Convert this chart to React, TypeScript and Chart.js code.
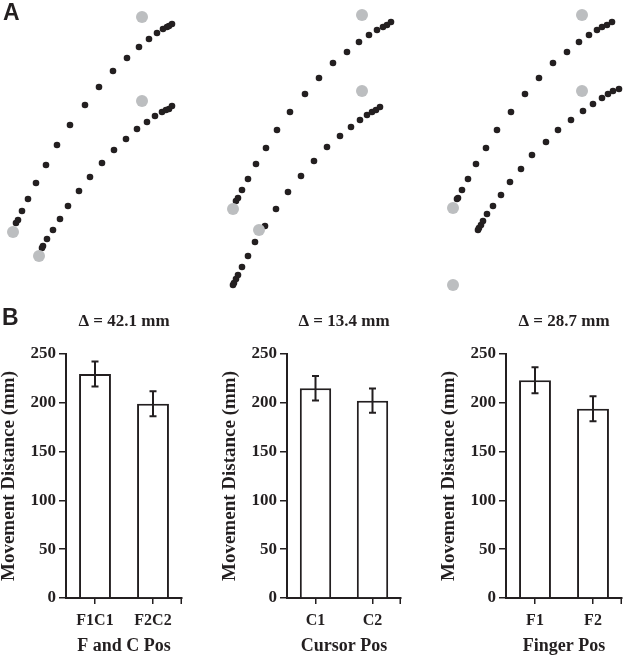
import React, { useEffect, useRef } from 'react';
import { Chart, registerables } from 'chart.js';

Chart.register(...registerables);

const INK = '#231f20';
const GRAY = '#bcbec0';
const SERIF = "'Liberation Serif', 'Times New Roman', serif";
const SANS = "'Liberation Sans', Arial, sans-serif";

type P = [number, number];

// ---- Panel A: trajectories (workspace units, y up) ----
const fcUpper: P[] = [[16,77],[18,80],[22,89],[28,101],[36,117],[46,135],[57,155],[70,175],[85,195],[99,213],[113,229],[127,242],[139,253],[149,261],[157,267],[163,271],[167,273],[169,274],[172,276]];
const fcLower: P[] = [[42,52],[43,54],[47,61],[53,70],[60,81],[68,94],[79,109],[90,123],[102,137],[114,150],[126,161],[137,171],[147,178],[155,184],[162,188],[166,190],[169,191],[172,194]];
const fcTargets: P[] = [[13,68],[142,283],[39,44],[142,199]];

const cUpper: P[] = [[16,99],[18,102],[22,110],[28,121],[36,136],[46,152],[57,170],[70,188],[85,206],[99,222],[113,237],[127,248],[139,258],[149,265],[157,270],[163,273],[167,275],[171,278]];
const cLower: P[] = [[13,15],[14,17],[16,21],[18,25],[22,33],[28,44],[35,58],[45,74],[56,91],[68,108],[81,124],[94,139],[107,153],[120,164],[131,173],[140,180],[147,185],[152,188],[156,190],[160,193]];
const cTargets: P[] = [[13,91],[142,285],[39,70],[142,209]];

const fUpper: P[] = [[17,101],[18,102],[22,110],[28,121],[36,136],[46,152],[57,170],[71,188],[85,206],[99,222],[113,237],[127,248],[139,258],[149,265],[157,270],[162,273],[167,275],[172,278]];
const fLower: P[] = [[38,70],[39,72],[41,75],[43,79],[47,86],[53,94],[61,105],[70,118],[81,131],[92,145],[106,158],[118,170],[131,180],[143,189],[153,196],[162,202],[168,206],[173,209],[179,211]];
const fTargets: P[] = [[13,92],[142,285],[13,15],[142,209]];

const WS_X_MAX = 185;
const WS_Y_MAX = 300;

// ---- Panel B: movement distance ----
const fcLabels = ['F1C1', 'F2C2'];
const fcValues = [229.5, 199];
const fcErrors = [12.8, 12.8];
const fcTitle = 'Δ = 42.1 mm';
const fcXTitle = 'F and C Pos';

const cLabels = ['C1', 'C2'];
const cValues = [214.9, 202.2];
const cErrors = [12.6, 12.5];
const cTitle = 'Δ = 13.4 mm';
const cXTitle = 'Cursor Pos';

const fLabels = ['F1', 'F2'];
const fValues = [223, 194];
const fErrors = [13.3, 12.8];
const fTitle = 'Δ = 28.7 mm';
const fXTitle = 'Finger Pos';

const yTicksMax = 250;
const yStep = 50;
const yTitle = 'Movement Distance (mm)';

const errorBarPlugin = {
  id: 'errorBars',
  afterDatasetsDraw(chart: any) {
    const ds = chart.data.datasets[0];
    const errs: number[] = ds.errors || [];
    const meta = chart.getDatasetMeta(0);
    const y = chart.scales.y;
    const ctx = chart.ctx;
    ctx.save();
    ctx.strokeStyle = INK;
    ctx.lineWidth = 2;
    meta.data.forEach((bar: any, i: number) => {
      const v = ds.data[i];
      const t = y.getPixelForValue(v + errs[i]);
      const b = y.getPixelForValue(v - errs[i]);
      ctx.beginPath();
      ctx.moveTo(bar.x, t);
      ctx.lineTo(bar.x, b);
      ctx.moveTo(bar.x - 3.5, t);
      ctx.lineTo(bar.x + 3.5, t);
      ctx.moveTo(bar.x - 3.5, b);
      ctx.lineTo(bar.x + 3.5, b);
      ctx.stroke();
    });
    // closing tick at the right end of the x axis
    const x = chart.scales.x;
    ctx.lineWidth = 1.5;
    ctx.beginPath();
    ctx.moveTo(x.right - 0.75, x.top);
    ctx.lineTo(x.right - 0.75, x.top + 6);
    ctx.stroke();
    ctx.restore();
  },
};

function makeTraj(canvas: HTMLCanvasElement, paths: P[][], targets: P[]) {
  const toXY = (p: P[]) => p.map(([x, y]) => ({ x, y }));
  return new Chart(canvas, {
    type: 'scatter',
    data: {
      datasets: [
        {
          data: toXY(targets),
          pointRadius: 6,
          pointBackgroundColor: GRAY,
          pointBorderWidth: 0,
          borderWidth: 0,
          clip: false,
        } as any,
        ...paths.map((p) => ({
          data: toXY(p),
          pointRadius: 3.3,
          pointBackgroundColor: INK,
          pointBorderWidth: 0,
          borderWidth: 0,
          clip: false,
        } as any)),
      ],
    },
    options: {
      animation: false,
      responsive: false,
      events: [],
      layout: { padding: 0, autoPadding: false },
      plugins: { legend: { display: false }, tooltip: { enabled: false } },
      scales: {
        x: { type: 'linear', display: false, min: 0, max: WS_X_MAX },
        y: { type: 'linear', display: false, min: 0, max: WS_Y_MAX },
      },
    } as any,
  });
}

function makeBars(
  canvas: HTMLCanvasElement,
  labels: string[],
  values: number[],
  errors: number[],
  title: string,
  xTitle: string,
  areaW: number,
  canvasW: number
) {
  const AXIS_W = 66;
  return new Chart(canvas, {
    type: 'bar',
    data: {
      labels,
      datasets: [
        {
          data: values,
          errors,
          backgroundColor: '#ffffff',
          borderColor: INK,
          borderWidth: 2,
          barPercentage: 0.55,
          categoryPercentage: 1,
        } as any,
      ],
    },
    options: {
      animation: false,
      responsive: false,
      events: [],
      layout: { padding: { left: 0, top: 0, bottom: 0, right: canvasW - AXIS_W - areaW } },
      plugins: {
        legend: { display: false },
        tooltip: { enabled: false },
        title: {
          display: true,
          text: title,
          fullSize: false,
          color: INK,
          font: { family: SERIF, size: 17, weight: 'bold', lineHeight: 1.2 },
          padding: { top: 11.5, bottom: 22.1 },
        },
      },
      scales: {
        x: {
          type: 'category',
          offset: true,
          grid: { offset: false, drawOnChartArea: false, drawTicks: true, tickLength: 6, color: INK, lineWidth: 1.5 },
          border: { display: true, color: INK, width: 2 },
          ticks: { color: INK, padding: 7, font: { family: SERIF, size: 16, weight: 'bold', lineHeight: 1.2 } },
          title: {
            display: true,
            text: xTitle,
            color: INK,
            font: { family: SERIF, size: 18, weight: 'bold', lineHeight: 1.2 },
            padding: 0,
          },
          afterFit: (s: any) => { s.height = 59; },
        },
        y: {
          type: 'linear',
          min: 0,
          max: yTicksMax,
          ticks: { stepSize: yStep, padding: 3, color: INK, font: { family: SERIF, size: 17, weight: 'bold' } },
          grid: { drawOnChartArea: false, drawTicks: true, tickLength: 7, color: INK, lineWidth: 1.5 },
          border: { display: true, color: INK, width: 2 },
          title: {
            display: true,
            text: yTitle,
            color: INK,
            font: { family: SERIF, size: 19, weight: 'bold', lineHeight: 1 },
            padding: 0,
          },
          afterFit: (s: any) => { s.width = AXIS_W; },
        },
      },
    } as any,
    plugins: [errorBarPlugin],
  });
}

export default function App() {
  const a1 = useRef<HTMLCanvasElement>(null);
  const a2 = useRef<HTMLCanvasElement>(null);
  const a3 = useRef<HTMLCanvasElement>(null);
  const b1 = useRef<HTMLCanvasElement>(null);
  const b2 = useRef<HTMLCanvasElement>(null);
  const b3 = useRef<HTMLCanvasElement>(null);

  useEffect(() => {
    const charts = [
      makeTraj(a1.current!, [fcUpper, fcLower], fcTargets),
      makeTraj(a2.current!, [cUpper, cLower], cTargets),
      makeTraj(a3.current!, [fUpper, fLower], fTargets),
      makeBars(b1.current!, fcLabels, fcValues, fcErrors, fcTitle, fcXTitle, 116, 185),
      makeBars(b2.current!, cLabels, cValues, cErrors, cTitle, cXTitle, 114, 185),
      makeBars(b3.current!, fLabels, fValues, fErrors, fTitle, fXTitle, 116, 185),
    ];
    return () => charts.forEach((c) => c.destroy());
  }, []);

  const abs = (left: number, top: number, w: number, h: number): React.CSSProperties => ({
    position: 'absolute', left, top, width: w, height: h, display: 'block',
  });
  const label: React.CSSProperties = {
    position: 'absolute', fontFamily: SANS, fontWeight: 'bold', fontSize: 23, lineHeight: '23px', color: INK, margin: 0,
  };

  return (
    <div style={{ position: 'absolute', left: 0, top: 0, width: 625, height: 657, background: '#ffffff', overflow: 'hidden' }}>
      <canvas ref={a1} width={WS_X_MAX} height={WS_Y_MAX} style={abs(0, 0, WS_X_MAX, WS_Y_MAX)} />
      <canvas ref={a2} width={WS_X_MAX} height={WS_Y_MAX} style={abs(220, 0, WS_X_MAX, WS_Y_MAX)} />
      <canvas ref={a3} width={WS_X_MAX} height={WS_Y_MAX} style={abs(440, 0, WS_X_MAX, WS_Y_MAX)} />
      <canvas ref={b1} width={185} height={357} style={abs(0, 300, 185, 357)} />
      <canvas ref={b2} width={185} height={357} style={abs(221, 300, 185, 357)} />
      <canvas ref={b3} width={185} height={357} style={abs(440, 300, 185, 357)} />
      <div style={{ ...label, left: 3, top: 1 }}>A</div>
      <div style={{ ...label, left: 2, top: 306 }}>B</div>
    </div>
  );
}
